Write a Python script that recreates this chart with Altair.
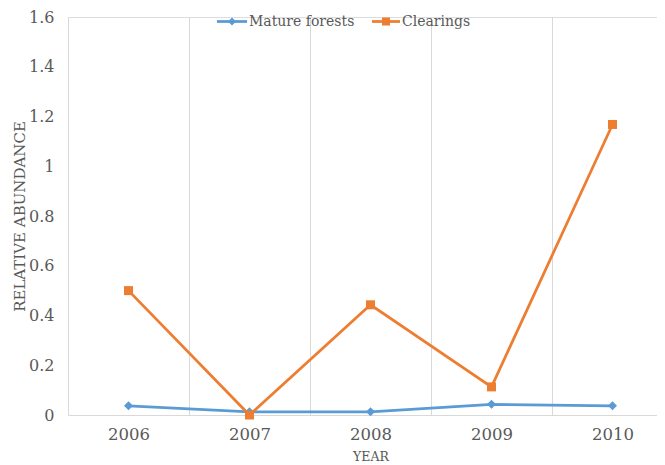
import altair as alt
import pandas as pd

# ---- data ----
years = ["2006", "2007", "2008", "2009", "2010"]
series_names = ["Mature forests", "Clearings"]
mature = [0.037, 0.013, 0.013, 0.043, 0.037]
clearings = [0.500, 0.000, 0.443, 0.113, 1.168]
y_ticks = [0, 0.2, 0.4, 0.6, 0.8, 1.0, 1.2, 1.4, 1.6]

colors = ["#5B9BD5", "#ED7D31"]
shapes = ["diamond", "square"]

df = pd.DataFrame({
    "year": years * 2,
    "series": [series_names[0]] * len(years) + [series_names[1]] * len(years),
    "value": mature + clearings,
})

FONT = "DejaVu Serif"
TXT = "#595959"
GRID = "#D9D9D9"

x = alt.X(
    "year:O",
    bandPosition=0.5,
    scale=alt.Scale(type="band", paddingInner=0, paddingOuter=0),
    axis=alt.Axis(
        title="YEAR", tickBand="extent", grid=True, gridColor=GRID, gridWidth=1,
        ticks=False, domainColor=GRID, domainWidth=1, labelAngle=0,
        labelFont=FONT, labelFontSize=16.5, labelColor=TXT, labelPadding=11,
        titleFont=FONT, titleFontSize=12.5, titleFontWeight="normal",
        titleColor=TXT, titlePadding=8,
    ),
)
y = alt.Y(
    "value:Q",
    scale=alt.Scale(domain=[0, 1.6], nice=False),
    axis=alt.Axis(
        values=y_ticks, format=".1~f", grid=False, domain=False, ticks=False,
        labelFont=FONT, labelFontSize=16, labelColor=TXT, labelPadding=14,
        title="RELATIVE ABUNDANCE", titleFont=FONT, titleFontSize=15,
        titleFontWeight="normal", titleColor=TXT, titlePadding=1,
    ),
)
color = alt.Color("series:N", scale=alt.Scale(domain=series_names, range=colors), legend=None)
shape = alt.Shape("series:N", scale=alt.Scale(domain=series_names, range=shapes), legend=None)

lines = alt.Chart(df).mark_line(strokeWidth=2.75).encode(x=x, y=y, color=color)
points = alt.Chart(df).mark_point(filled=True, size=81, opacity=1).encode(
    x=x, y=y, color=color, shape=shape
)

# ---- manual legend (line + marker + label) ----
one = pd.DataFrame({"k": [0]})
legend_layers = []
leg_y = 4.5
entries = [
    (series_names[0], colors[0], shapes[0], 149, 179, 164, 181),
    (series_names[1], colors[1], shapes[1], 304, 332, 318, 334),
]
for name, col, shp, x0, x1, xm, xt in entries:
    legend_layers.append(
        alt.Chart(one).mark_rule(color=col, strokeWidth=2.75).encode(
            x=alt.value(x0), x2=alt.value(x1), y=alt.value(leg_y)
        )
    )
    legend_layers.append(
        alt.Chart(one).mark_point(filled=True, shape=shp, size=64, color=col, opacity=1).encode(
            x=alt.value(xm), y=alt.value(leg_y)
        )
    )
    legend_layers.append(
        alt.Chart(one).mark_text(
            align="left", baseline="middle", font=FONT, fontSize=14, color=TXT
        ).encode(x=alt.value(xt), y=alt.value(leg_y), text=alt.value(name))
    )

chart = alt.layer(lines, points, *legend_layers).properties(
    width=605,
    height=398,
    autosize=alt.AutoSizeParams(type="none"),
    padding={"left": 60, "top": 9, "right": -16, "bottom": 50},
).configure_view(strokeWidth=0).configure(background="white")

chart.save("out.html", embed_options={"renderer": "svg", "actions": False})
